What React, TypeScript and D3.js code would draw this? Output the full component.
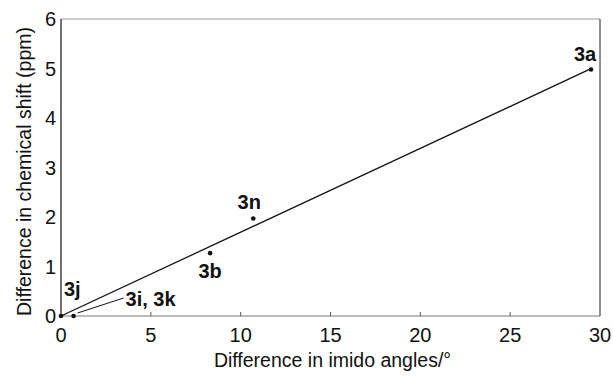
import { useEffect, useRef } from 'react'
import * as d3 from 'd3'

// compounds: difference in imido angles (deg) vs difference in chemical shift (ppm)
const labels = ['3j', '3i, 3k', '3b', '3n', '3a']
const angleDiff = [0, 0.7, 8.3, 10.7, 29.5]
const shiftDiff = [0, 0, 1.27, 1.97, 4.98]

const xTicks = [0, 5, 10, 15, 20, 25, 30]
const yTicks = [0, 1, 2, 3, 4, 5, 6]

const xTitle = 'Difference in imido angles/\u00b0'
const yTitle = 'Difference in chemical shift (ppm)'

// label placement relative to the point (pixels)
const labelOffset: Record<string, [number, number, string]> = {
  '3j': [3, -20, 'start'],
  '3i, 3k': [52, -10, 'start'],
  '3b': [0, 25, 'middle'],
  '3n': [-4, -9, 'middle'],
  '3a': [-6, -8, 'middle'],
}

const W = 613
const H = 377
const margin = { top: 19, right: 13, bottom: 61, left: 61 }
const font = 'Liberation Sans, Arial, sans-serif'

const App = () => {
  const svgRef = useRef<SVGSVGElement>(null)

  useEffect(() => {
    const svg = d3.select(svgRef.current)
    svg.selectAll('*').remove()

    const x = d3.scaleLinear().domain([0, 30]).range([margin.left, W - margin.right])
    const y = d3.scaleLinear().domain([0, 6]).range([H - margin.bottom, margin.top])

    const data = labels.map((name, i) => ({ name, x: angleDiff[i], y: shiftDiff[i] }))

    // frame
    svg.append('line')
      .attr('x1', x(0)).attr('x2', x(30)).attr('y1', y(6)).attr('y2', y(6))
      .attr('stroke', '#999').attr('stroke-width', 1)
    svg.append('line')
      .attr('x1', x(0)).attr('x2', x(30)).attr('y1', y(0)).attr('y2', y(0))
      .attr('stroke', '#777').attr('stroke-width', 1)
    svg.append('line')
      .attr('x1', x(30)).attr('x2', x(30)).attr('y1', y(6)).attr('y2', y(0))
      .attr('stroke', '#222').attr('stroke-width', 1)
    svg.append('line')
      .attr('x1', x(0)).attr('x2', x(0)).attr('y1', y(6)).attr('y2', y(0))
      .attr('stroke', '#444').attr('stroke-width', 1.5)

    // x ticks (inside)
    svg.selectAll('.xtick')
      .data(xTicks.slice(1, -1))
      .join('line')
      .attr('class', 'xtick')
      .attr('x1', d => x(d)).attr('x2', d => x(d))
      .attr('y1', y(0)).attr('y2', y(0) - 4)
      .attr('stroke', '#555')

    svg.selectAll('.xlabel')
      .data(xTicks)
      .join('text')
      .attr('class', 'xlabel')
      .attr('x', d => x(d))
      .attr('y', y(0) + 26)
      .attr('text-anchor', 'middle')
      .attr('font-family', font)
      .attr('font-size', 20)
      .attr('fill', '#111')
      .text(d => d)

    svg.selectAll('.ylabel')
      .data(yTicks)
      .join('text')
      .attr('class', 'ylabel')
      .attr('x', x(0) - 5)
      .attr('y', d => y(d) + 7)
      .attr('text-anchor', 'end')
      .attr('font-family', font)
      .attr('font-size', 20)
      .attr('fill', '#111')
      .text(d => d)

    // least squares line through origin
    const slope = d3.sum(data, d => d.x * d.y) / d3.sum(data, d => d.x * d.x)
    const xMax = d3.max(data, d => d.x) ?? 0
    svg.append('path')
      .attr('d', d3.line<number>().x(d => x(d)).y(d => y(d * slope))([0, xMax]))
      .attr('stroke', '#111')
      .attr('stroke-width', 1.3)
      .attr('fill', 'none')

    svg.selectAll('.pt')
      .data(data)
      .join('circle')
      .attr('class', 'pt')
      .attr('cx', d => x(d.x))
      .attr('cy', d => y(d.y))
      .attr('r', 2.3)
      .attr('fill', '#111')

    // leader for 3i, 3k
    const ik = data[1]
    svg.append('line')
      .attr('x1', x(ik.x) + 4).attr('y1', y(ik.y) - 3)
      .attr('x2', x(ik.x) + 50).attr('y2', y(ik.y) - 18)
      .attr('stroke', '#111').attr('stroke-width', 1)

    svg.selectAll('.plabel')
      .data(data)
      .join('text')
      .attr('class', 'plabel')
      .attr('x', d => x(d.x) + labelOffset[d.name][0])
      .attr('y', d => y(d.y) + labelOffset[d.name][1])
      .attr('text-anchor', d => labelOffset[d.name][2])
      .attr('font-family', font)
      .attr('font-weight', 'bold')
      .attr('font-size', 20)
      .attr('fill', '#111')
      .text(d => d.name)

    svg.append('text')
      .attr('x', (x(0) + x(30)) / 2 + 2)
      .attr('y', H - 10)
      .attr('text-anchor', 'middle')
      .attr('font-family', font)
      .attr('font-size', 19.5)
      .attr('fill', '#111')
      .text(xTitle)

    svg.append('text')
      .attr('transform', `translate(31,${(y(0) + y(6)) / 2 + 4}) rotate(-90)`)
      .attr('text-anchor', 'middle')
      .attr('font-family', font)
      .attr('font-size', 19.5)
      .attr('fill', '#111')
      .text(yTitle)
  }, [])

  return (
    <div style={{ position: 'fixed', left: 0, top: 0 }}>
      <svg ref={svgRef} width={W} height={H} style={{ display: 'block', background: '#fff' }} />
    </div>
  )
}

export default App
